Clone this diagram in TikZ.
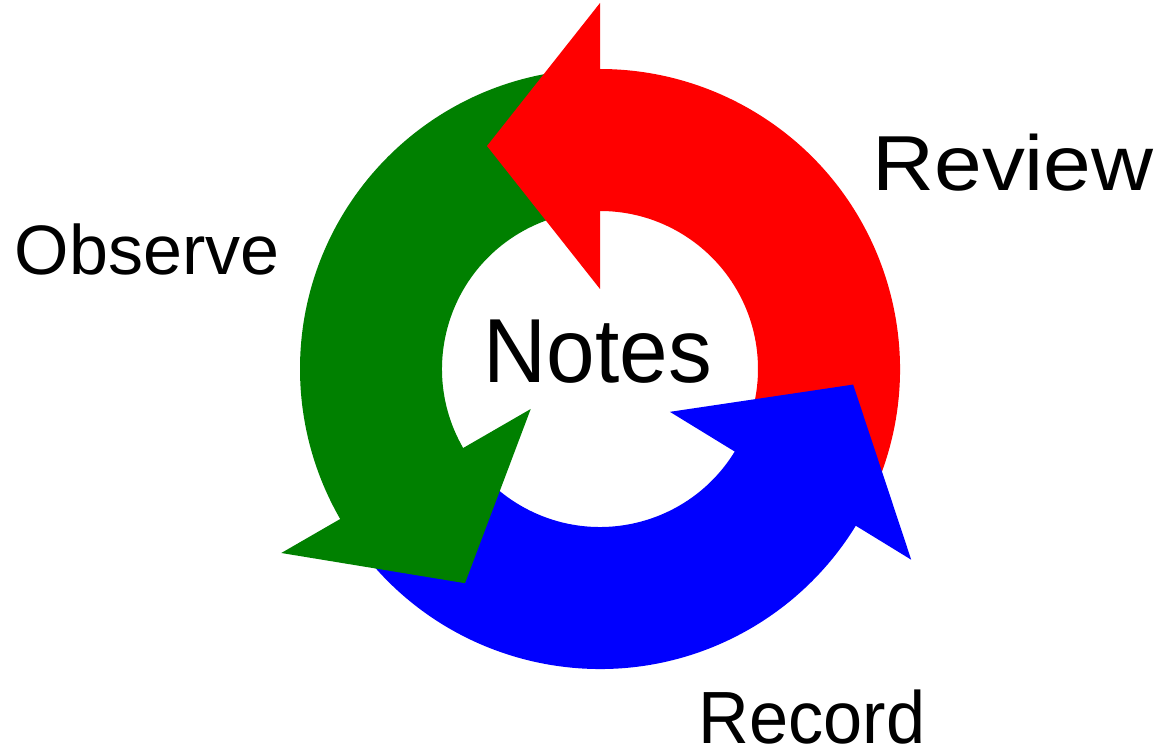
\documentclass[tikz,border=0pt]{standalone}
\usepackage{fontspec}
\setmainfont{Liberation Sans}
\usetikzlibrary{calc}
\definecolor{cred}{RGB}{255,0,0}
\definecolor{cgreen}{RGB}{0,128,0}
\definecolor{cblue}{RGB}{0,0,255}
\begin{document}
\begin{tikzpicture}[x=1pt,y=1pt,
  lbl/.style={inner sep=0pt,outer sep=0pt,text=black}]
\useasboundingbox (0,0) rectangle (1159,753);
\begin{scope}[shift={(600,384)}]
  % shafts (ends tucked under the arrowheads to avoid seams)
  \fill[cred] (-29.5:300) arc[start angle=-29.5,end angle=91,radius=300]
     -- (91:158) arc[start angle=91,end angle=-29.5,radius=158] -- cycle;
  \fill[cgreen] (92:300) arc[start angle=92,end angle=211,radius=300]
     -- (211:158) arc[start angle=211,end angle=92,radius=158] -- cycle;
  \fill[cblue] (212:300) arc[start angle=212,end angle=329.5,radius=300]
     -- (329.5:158) arc[start angle=329.5,end angle=212,radius=158] -- cycle;
  % heads
  \fill[cred] (90:80) -- (90:366) -- ($(90:223)+(180:113)$) -- cycle;
  \fill[cgreen] (210:80) -- (210:368) -- ($(210:224)+(300:118)$) -- cycle;
  \fill[cblue] (328.5:82) -- (328.5:365) -- ($(328.5:224)+(58.5:119)$) -- cycle;
\end{scope}
\node[lbl,anchor=base,xscale=1.1,font=\fontsize{78}{78}\selectfont] (review) at (1013,562) {Review};
\node[lbl,anchor=base,font=\fontsize{70}{70}\selectfont] (observe) at (147,478) {Observe};
\node[lbl,anchor=base,xscale=0.96,font=\fontsize{91}{91}\selectfont] (notes) at (598,370) {Notes};
\node[lbl,anchor=base,xscale=0.95,font=\fontsize{74}{74}\selectfont] (record) at (812,10) {Record};
\end{tikzpicture}
\end{document}
